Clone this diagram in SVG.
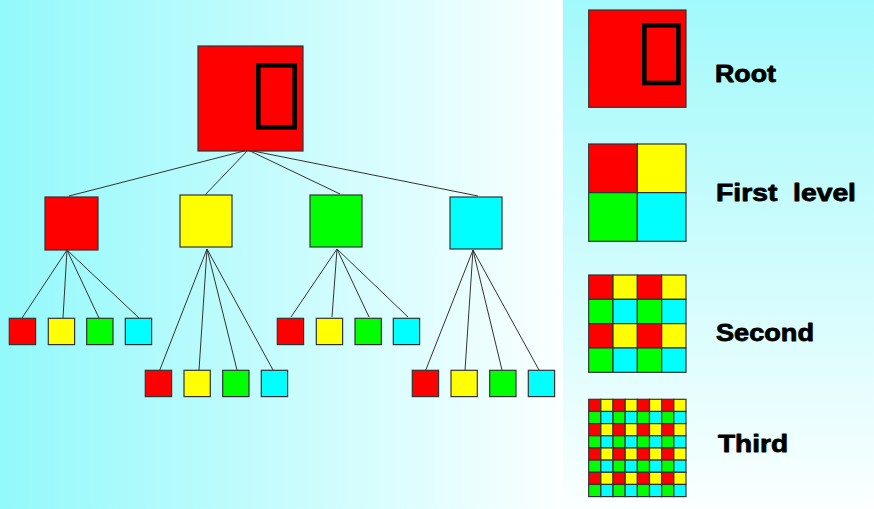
<svg xmlns="http://www.w3.org/2000/svg" width="874" height="509" viewBox="0 0 874 509">
  <defs>
    <linearGradient id="bgL" x1="0" y1="0" x2="1" y2="0">
      <stop offset="0" stop-color="#93f9fb"/>
      <stop offset="1" stop-color="#fbffff"/>
    </linearGradient>
    <linearGradient id="bgR" x1="0" y1="0" x2="0" y2="1">
      <stop offset="0" stop-color="#a2f9fb"/>
      <stop offset="1" stop-color="#fbffff"/>
    </linearGradient>
  </defs>
  <style>
    .bx { stroke: #333; stroke-width: 1.2; }
    .r { fill: #ff0000; }
    .y { fill: #ffff00; }
    .g { fill: #00ff00; }
    .c { fill: #00ffff; }
    .tofu { fill: none; stroke: #000; stroke-width: 4.6; }
    .ln { stroke: #333; stroke-width: 1; fill: none; }
    .lbl { font-family: "Liberation Sans", Arial, sans-serif; font-weight: bold; font-size: 24px; fill: #000; stroke: #000; stroke-width: 0.8; stroke-linejoin: round; }
  </style>
  <rect x="0" y="0" width="563" height="509" fill="url(#bgL)"/>
  <rect x="563" y="0" width="311" height="509" fill="url(#bgR)"/>

  <g id="connectors">
    <path class="ln" d="M248,150 L69,196 M248,150 L205,195 M248,150 L340,194 M248,150 L478,196"/>
    <path class="ln" d="M67,250 L22,318 M67,250 L63,318 M67,250 L99,318 M67,250 L139,318"/>
    <path class="ln" d="M207,249 L159,372 M207,249 L199,370 M207,249 L237,370 M207,249 L273,370"/>
    <path class="ln" d="M337,249 L291,317 M337,249 L332,317 M337,249 L369,317 M337,249 L408,317"/>
    <path class="ln" d="M473,250 L425,372 M473,250 L465,370 M473,250 L502,370 M473,250 L539,370"/>
  </g>

  <g id="root">
    <rect class="bx r" x="198" y="46" width="105" height="105"/>
    <rect class="tofu" x="258.3" y="65.3" width="36.4" height="62"/>
  </g>

  <g id="l1-red"><rect class="bx r" x="45" y="197" width="53" height="53"/></g>
  <g id="l1-yellow"><rect class="bx y" x="180" y="195" width="52" height="52"/></g>
  <g id="l1-green"><rect class="bx g" x="310" y="195" width="52" height="52"/></g>
  <g id="l1-cyan"><rect class="bx c" x="450" y="197" width="52" height="52"/></g>

  <g id="l2-red-children">
    <rect class="bx r" x="9.3" y="318.3" width="26.3" height="26.3"/>
    <rect class="bx y" x="48.3" y="318.3" width="26.3" height="26.3"/>
    <rect class="bx g" x="86.7" y="318.3" width="26.3" height="26.3"/>
    <rect class="bx c" x="125.3" y="318.3" width="26.3" height="26.3"/>
  </g>
  <g id="l2-yellow-children">
    <rect class="bx r" x="145.3" y="370.3" width="26.3" height="26.3"/>
    <rect class="bx y" x="184" y="370.3" width="26.3" height="26.3"/>
    <rect class="bx g" x="222.7" y="370.3" width="26.3" height="26.3"/>
    <rect class="bx c" x="261.3" y="370.3" width="26.3" height="26.3"/>
  </g>
  <g id="l2-green-children">
    <rect class="bx r" x="277.3" y="318.3" width="26.3" height="26.3"/>
    <rect class="bx y" x="316.3" y="318.3" width="26.3" height="26.3"/>
    <rect class="bx g" x="355" y="318.3" width="26.3" height="26.3"/>
    <rect class="bx c" x="393.3" y="318.3" width="26.3" height="26.3"/>
  </g>
  <g id="l2-cyan-children">
    <rect class="bx r" x="412.3" y="370.3" width="26.3" height="26.3"/>
    <rect class="bx y" x="451" y="370.3" width="26.3" height="26.3"/>
    <rect class="bx g" x="489.7" y="370.3" width="26.3" height="26.3"/>
    <rect class="bx c" x="528.3" y="370.3" width="26.3" height="26.3"/>
  </g>

  <g id="legend-root">
    <rect class="bx r" x="588.7" y="10" width="97.3" height="97.3"/>
    <rect class="tofu" x="644.3" y="25.3" width="34" height="57.7"/>
    <text class="lbl" x="715" y="81.7" textLength="61" lengthAdjust="spacingAndGlyphs">Root</text>
  </g>

  <g id="legend-first">
    <rect class="bx r" x="588.7" y="144" width="48.65" height="48.65"/>
    <rect class="bx y" x="637.35" y="144" width="48.65" height="48.65"/>
    <rect class="bx g" x="588.7" y="192.65" width="48.65" height="48.65"/>
    <rect class="bx c" x="637.35" y="192.65" width="48.65" height="48.65"/>
    <text class="lbl" x="716" y="201" xml:space="preserve" textLength="140" lengthAdjust="spacingAndGlyphs">First  level</text>
  </g>

  <g id="legend-second">
    <rect class="bx r" x="588.7" y="275" width="24.33" height="24.33"/>
    <rect class="bx y" x="613.03" y="275" width="24.33" height="24.33"/>
    <rect class="bx r" x="637.35" y="275" width="24.33" height="24.33"/>
    <rect class="bx y" x="661.68" y="275" width="24.33" height="24.33"/>
    <rect class="bx g" x="588.7" y="299.33" width="24.33" height="24.33"/>
    <rect class="bx c" x="613.03" y="299.33" width="24.33" height="24.33"/>
    <rect class="bx g" x="637.35" y="299.33" width="24.33" height="24.33"/>
    <rect class="bx c" x="661.68" y="299.33" width="24.33" height="24.33"/>
    <rect class="bx r" x="588.7" y="323.65" width="24.33" height="24.33"/>
    <rect class="bx y" x="613.03" y="323.65" width="24.33" height="24.33"/>
    <rect class="bx r" x="637.35" y="323.65" width="24.33" height="24.33"/>
    <rect class="bx y" x="661.68" y="323.65" width="24.33" height="24.33"/>
    <rect class="bx g" x="588.7" y="347.98" width="24.33" height="24.33"/>
    <rect class="bx c" x="613.03" y="347.98" width="24.33" height="24.33"/>
    <rect class="bx g" x="637.35" y="347.98" width="24.33" height="24.33"/>
    <rect class="bx c" x="661.68" y="347.98" width="24.33" height="24.33"/>
    <text class="lbl" x="716" y="341" textLength="98" lengthAdjust="spacingAndGlyphs">Second</text>
  </g>

  <g id="legend-third">
    <g transform="translate(588.7,399.3)">
      <g id="t-row-ry">
        <rect class="bx r" x="0" y="0" width="12.16" height="12.16"/>
        <rect class="bx y" x="12.16" y="0" width="12.16" height="12.16"/>
        <rect class="bx r" x="24.33" y="0" width="12.16" height="12.16"/>
        <rect class="bx y" x="36.49" y="0" width="12.16" height="12.16"/>
        <rect class="bx r" x="48.65" y="0" width="12.16" height="12.16"/>
        <rect class="bx y" x="60.81" y="0" width="12.16" height="12.16"/>
        <rect class="bx r" x="72.98" y="0" width="12.16" height="12.16"/>
        <rect class="bx y" x="85.14" y="0" width="12.16" height="12.16"/>
      </g>
      <g id="t-row-gc">
        <rect class="bx g" x="0" y="12.16" width="12.16" height="12.16"/>
        <rect class="bx c" x="12.16" y="12.16" width="12.16" height="12.16"/>
        <rect class="bx g" x="24.33" y="12.16" width="12.16" height="12.16"/>
        <rect class="bx c" x="36.49" y="12.16" width="12.16" height="12.16"/>
        <rect class="bx g" x="48.65" y="12.16" width="12.16" height="12.16"/>
        <rect class="bx c" x="60.81" y="12.16" width="12.16" height="12.16"/>
        <rect class="bx g" x="72.98" y="12.16" width="12.16" height="12.16"/>
        <rect class="bx c" x="85.14" y="12.16" width="12.16" height="12.16"/>
      </g>
      <use href="#t-row-ry" y="24.33"/>
      <use href="#t-row-gc" y="24.33"/>
      <use href="#t-row-ry" y="48.65"/>
      <use href="#t-row-gc" y="48.65"/>
      <use href="#t-row-ry" y="72.98"/>
      <use href="#t-row-gc" y="72.98"/>
    </g>
    <text class="lbl" x="718" y="452.3" textLength="70" lengthAdjust="spacingAndGlyphs">Third</text>
  </g>
</svg>
